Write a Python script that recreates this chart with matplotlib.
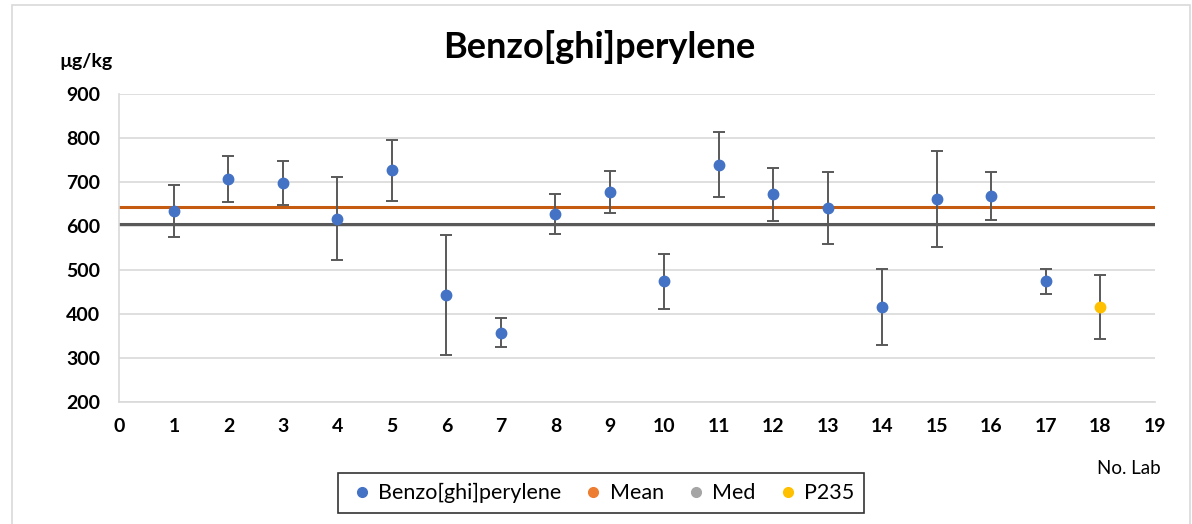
import matplotlib
matplotlib.use("Agg")
from matplotlib import pyplot as plt
from matplotlib.lines import Line2D
from matplotlib.patches import Rectangle
import numpy as np

labs = [1, 2, 3, 4, 5, 6, 7, 8, 9, 10, 11, 12, 13, 14, 15, 16, 17]
values = [634, 707, 698, 617, 727, 443, 357, 628, 678, 474, 740, 672, 641, 416, 662, 668, 474]
errors = [59, 53, 51, 94, 70, 137, 33, 45, 48, 62, 74, 61, 82, 87, 109, 54, 28]

p235_lab = [18]
p235_value = [416]
p235_error = [73]

mean_value = 643
med_value = 604

title = "Benzo[ghi]perylene"

plt.rcParams['font.family'] = ['Lato', 'DejaVu Sans']

fig = plt.figure(figsize=(11.92, 5.24), dpi=100)
ax = fig.add_axes([119.4 / 1192, 1 - 401.7 / 524, (1155 - 119.4) / 1192, (401.7 - 94.3) / 524])

# chart border
fig.patches.append(Rectangle((12 / 1192, -0.05), (1190 - 12) / 1192, 1.05 - 5 / 524,
                             transform=fig.transFigure, fill=False,
                             edgecolor='#d9d9d9', linewidth=1.2))

ax.axhline(mean_value, color='#C55A11', linewidth=2.2, zorder=2)
ax.axhline(med_value, color='#595959', linewidth=2.2, zorder=2)

ax.errorbar(labs, values, yerr=errors, fmt='o', color='#4472C4', markersize=7.5,
            ecolor='#595959', elinewidth=1.4, capsize=4, capthick=1.4, zorder=3)
ax.errorbar(p235_lab, p235_value, yerr=p235_error, fmt='o', color='#FFC000', markersize=7.5,
            ecolor='#595959', elinewidth=1.4, capsize=4, capthick=1.4, zorder=3)

ax.set_xlim(0, 19)
ax.set_ylim(200, 900)
ax.set_xticks(range(0, 20))
ax.set_yticks(range(200, 901, 100))
ax.yaxis.grid(True, color='#d9d9d9', linewidth=1.2)
ax.set_axisbelow(True)
ax.tick_params(length=0, labelsize=14)
ax.tick_params(axis='x', pad=12)
ax.tick_params(axis='y', pad=14)
for lbl in ax.get_xticklabels() + ax.get_yticklabels():
    lbl.set_fontweight('bold')

for s in ['top', 'right']:
    ax.spines[s].set_visible(False)
for s in ['left', 'bottom']:
    ax.spines[s].set_color('#d9d9d9')
    ax.spines[s].set_linewidth(1.2)

fig.text(599 / 1192, 1 - 47 / 524, title, ha='center', va='center',
         fontsize=26, fontweight='bold')
fig.text(86 / 1192, 1 - 62 / 524, "µg/kg", ha='center', va='center',
         fontsize=14, fontweight='bold')
fig.text(1161 / 1192, 1 - 468 / 524, "No. Lab", ha='right', va='center',
         fontsize=13.5)

handles = [
    Line2D([], [], marker='o', linestyle='none', color='#4472C4', markersize=7),
    Line2D([], [], marker='o', linestyle='none', color='#ED7D31', markersize=7),
    Line2D([], [], marker='o', linestyle='none', color='#A5A5A5', markersize=7),
    Line2D([], [], marker='o', linestyle='none', color='#FFC000', markersize=7),
]
leg = fig.legend(handles, [title, "Mean", "Med", "P235"], loc='center',
                 bbox_to_anchor=(601 / 1192, 1 - 493 / 524), ncol=4,
                 frameon=True, fancybox=False, edgecolor='black', fontsize=15.5,
                 handletextpad=0.1, columnspacing=0.85, borderpad=0.45, handlelength=1.3)
leg.get_frame().set_linewidth(1.2)

fig.savefig("out.png", dpi=100)
